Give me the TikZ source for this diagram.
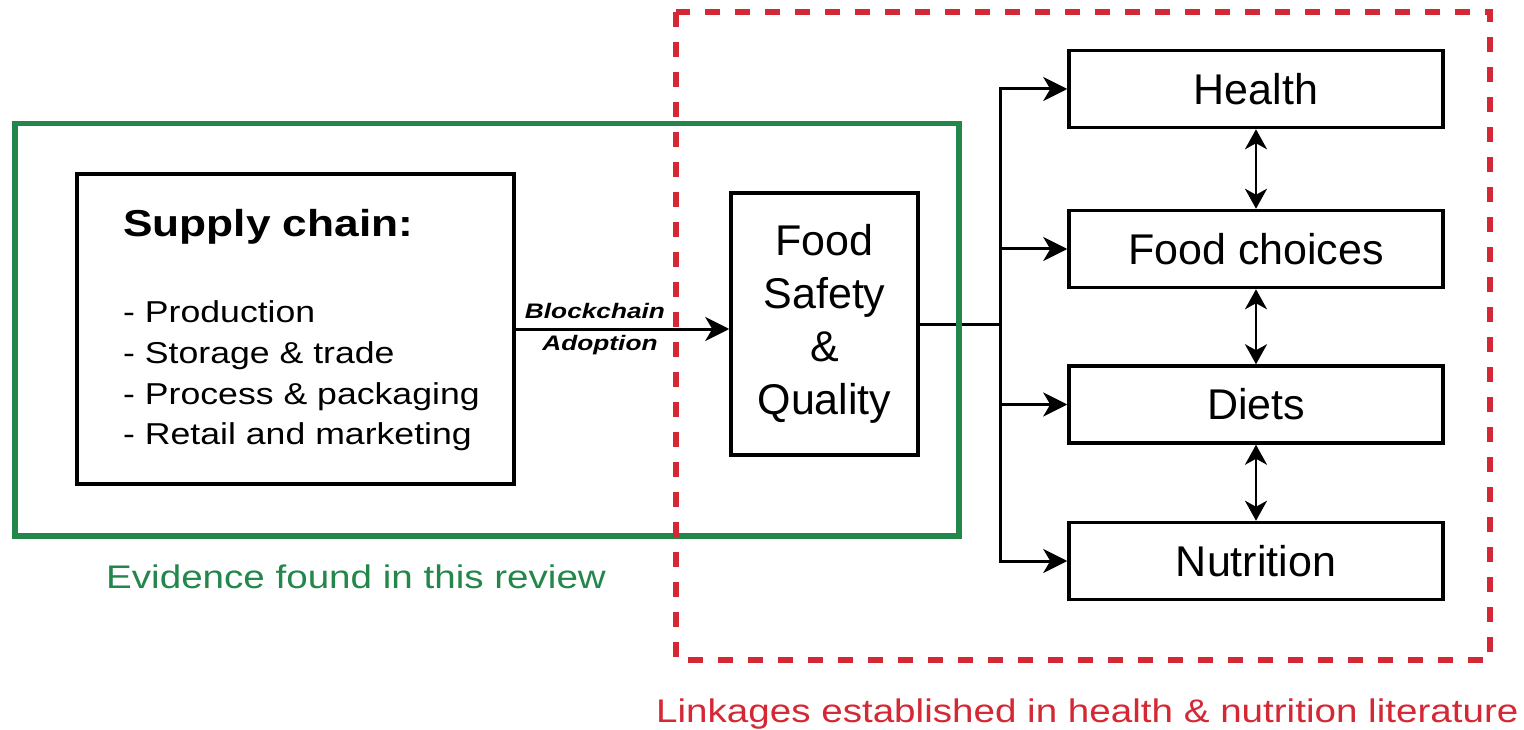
\documentclass[tikz,border=0pt]{standalone}
\usepackage{fontspec}
\setmainfont{Liberation Sans}
\newfontfamily\widesans[FakeStretch=1.18]{Liberation Sans}
\newfontfamily\widertag[FakeStretch=1.25]{Liberation Sans}
\usetikzlibrary{arrows.meta}
\definecolor{evgreen}{RGB}{35,135,75}
\definecolor{lkred}{RGB}{212,40,52}
\begin{document}
\begin{tikzpicture}[x=1pt,y=-1pt,
  box/.style={draw=black, line width=3.5pt, inner sep=0pt},
  conn/.style={line width=3pt, draw=black},
  bigtip/.style={-{Stealth[length=24pt,width=24pt,inset=7pt]}},
  dbltip/.style={{Stealth[length=20pt,width=22pt,inset=6pt]}-{Stealth[length=20pt,width=22pt,inset=6pt]}},
  boxfont/.style={font=\fontsize{43}{53}\selectfont},
  listfont/.style={font=\widesans\fontsize{30.2}{36}\selectfont, inner sep=0pt, anchor=base west},
  tagfont/.style={font=\widertag\bfseries\itshape\fontsize{21}{25}\selectfont, inner sep=0pt, anchor=base},
  caption/.style={font=\widesans\fontsize{32.7}{38}\selectfont, inner sep=0pt, anchor=base west},
]
\useasboundingbox (0,0) rectangle (1524,730);

% boxes
\node[box, minimum width=437pt, minimum height=310pt] (supply) at (295.5,329) {};
\node[box, boxfont, align=center, minimum width=187pt, minimum height=262pt] (fsq) at (824.5,324) {Food\\Safety\\\&\\Quality};
\node[box, boxfont, minimum width=374pt, minimum height=77pt] (health) at (1256,89) {Health};
\node[box, boxfont, minimum width=374pt, minimum height=77pt] (choices) at (1256,249) {Food choices};
\node[box, boxfont, minimum width=374pt, minimum height=77pt] (diets) at (1256,404.5) {Diets};
\node[box, boxfont, minimum width=374pt, minimum height=77pt] (nutrition) at (1256,561) {Nutrition};

% supply chain text
\node[font=\widesans\bfseries\fontsize{37.5}{44}\selectfont, inner sep=0pt, anchor=base west] (sctitle) at (123,237) {Supply chain:};
\node[listfont] (l1) at (123,323) {- Production};
\node[listfont] (l2) at (123,363.5) {- Storage \& trade};
\node[listfont] (l3) at (123,404) {- Process \& packaging};
\node[listfont] (l4) at (123,444) {- Retail and marketing};

% blockchain arrow
\draw[conn, bigtip] (supply.east) -- (supply.east -| fsq.west);
\node[tagfont] (bc1) at (595,318) {Blockchain};
\node[tagfont] (bc2) at (600,350) {Adoption};

% branching
\coordinate (branch) at (1000,324);
\draw[conn] (fsq.east) -- (branch);
\draw[conn, bigtip] (branch) |- (health.west);
\draw[conn, bigtip] (branch) |- (choices.west);
\draw[conn, bigtip] (branch) |- (diets.west);
\draw[conn, bigtip] (branch) |- (nutrition.west);

% double arrows
\draw[line width=2.5pt, dbltip] (health.south) -- (choices.north);
\draw[line width=2.5pt, dbltip] (choices.south) -- (diets.north);
\draw[line width=2.5pt, dbltip] (diets.south) -- (nutrition.north);

% frames
\node[draw=evgreen, line width=5.5pt, inner sep=0pt, minimum width=944pt, minimum height=412.5pt] (evframe) at (487,329.75) {};
\draw[draw=lkred, line width=5.5pt, dash pattern=on 15pt off 15pt] (676,12) rectangle (1490,660);
\node[caption, text=evgreen] (evtext) at (106,588) {Evidence found in this review};
\node[caption, text=lkred] (lktext) at (656,722) {Linkages established in health \& nutrition literature};
\end{tikzpicture}
\end{document}
